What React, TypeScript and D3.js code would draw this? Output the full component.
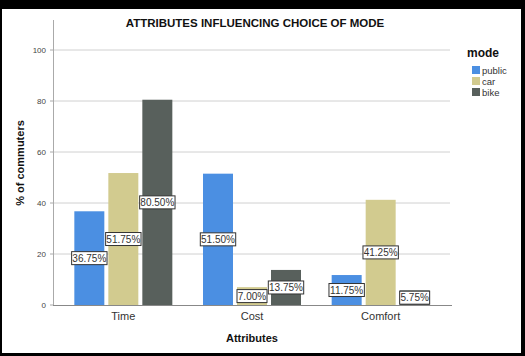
import React from "react";
import * as d3 from "d3";

const categories = ["Time", "Cost", "Comfort"];
const modes = ["public", "car", "bike"];
const publicValues = [36.75, 51.5, 11.75];
const carValues = [51.75, 7.0, 41.25];
const bikeValues = [80.5, 13.75, 5.75];
const yTicks = [0, 20, 40, 60, 80, 100];
const colors = ["#4b8fe2", "#d2cb8f", "#58605c"];

const W = 525;
const H = 356;
const FONT = "'Liberation Sans', Arial, sans-serif";

export default function App() {
  const series = [publicValues, carValues, bikeValues];
  const y = d3.scaleLinear().domain([0, 100]).range([305, 50]);
  const x0 = d3.scaleBand<string>().domain(categories).range([59, 445]).paddingInner(0).paddingOuter(0);
  const x1 = d3.scaleBand<string>().domain(modes).range([0, 98]).paddingInner(4 / 34).paddingOuter(0);
  const groupOffset = (x0.bandwidth() - 98) / 2;
  const fmt = (v: number) => v.toFixed(2) + "%";

  const labelW = (s: string) => s.length * 5.4 + 3;

  return (
    <svg width={W} height={H} style={{ position: "absolute", left: 0, top: 0, display: "block" }} fontFamily={FONT}>
      <rect x={0} y={0} width={W} height={H} fill="#000" />
      <rect x={2} y={9} width={519} height={344} fill="#fff" />
      <text x={255} y={27} textAnchor="middle" fontSize={11.5} fontWeight="bold" fill="#111">
        ATTRIBUTES INFLUENCING CHOICE OF MODE
      </text>
      {/* gridlines */}
      {yTicks.filter((t) => t > 0).map((t) => (
        <line key={t} x1={53} x2={450} y1={y(t)} y2={y(t)} stroke="#d0d0d0" strokeWidth={1} />
      ))}
      {/* y axis */}
      <line x1={53.5} x2={53.5} y1={20} y2={305} stroke="#aaa" strokeWidth={1} />
      {yTicks.map((t) => (
        <g key={t}>
          <line x1={50} x2={53} y1={y(t)} y2={y(t)} stroke="#aaa" />
          <text x={46} y={y(t) + 3} textAnchor="end" fontSize={8} fill="#444">
            {t}
          </text>
        </g>
      ))}
      {/* bars */}
      {categories.map((c, ci) =>
        modes.map((m, mi) => {
          const v = series[mi][ci];
          const bx = (x0(c) as number) + groupOffset + (x1(m) as number);
          return (
            <rect
              key={c + m}
              x={bx}
              y={y(v)}
              width={x1.bandwidth()}
              height={y(0) - y(v)}
              fill={colors[mi]}
            />
          );
        })
      )}
      {/* x axis */}
      <line x1={53} x2={452} y1={305.5} y2={305.5} stroke="#888" strokeWidth={1} />
      {categories.map((c) => (
        <text key={c} x={(x0(c) as number) + x0.bandwidth() / 2} y={320} textAnchor="middle" fontSize={11} fill="#333">
          {c}
        </text>
      ))}
      {/* value labels */}
      {categories.map((c, ci) =>
        modes.map((m, mi) => {
          const v = series[mi][ci];
          const cx = (x0(c) as number) + groupOffset + (x1(m) as number) + x1.bandwidth() / 2;
          const cy = y(v / 2);
          const s = fmt(v);
          const w = labelW(s);
          return (
            <g key={"l" + c + m}>
              <rect x={cx - w / 2} y={cy - 6.5} width={w} height={13} fill="#fff" stroke="#333" strokeWidth={1} />
              <text x={cx} y={cy + 3.6} textAnchor="middle" fontSize={10} fill="#333">
                {s}
              </text>
            </g>
          );
        })
      )}
      {/* axis titles */}
      <text x={252} y={342} textAnchor="middle" fontSize={11} fontWeight="bold" fill="#111">
        Attributes
      </text>
      <text
        transform={`translate(24,163) rotate(-90)`}
        textAnchor="middle"
        fontSize={11}
        fontWeight="bold"
        fill="#111"
      >
        % of commuters
      </text>
      {/* legend */}
      <text x={467} y={57} fontSize={12} fontWeight="bold" fill="#111">
        mode
      </text>
      {modes.map((m, i) => (
        <g key={m}>
          <rect x={472} y={66 + i * 11} width={8} height={8} fill={colors[i]} />
          <text x={482} y={73.5 + i * 11} fontSize={9.5} fill="#333">
            {m}
          </text>
        </g>
      ))}
    </svg>
  );
}
